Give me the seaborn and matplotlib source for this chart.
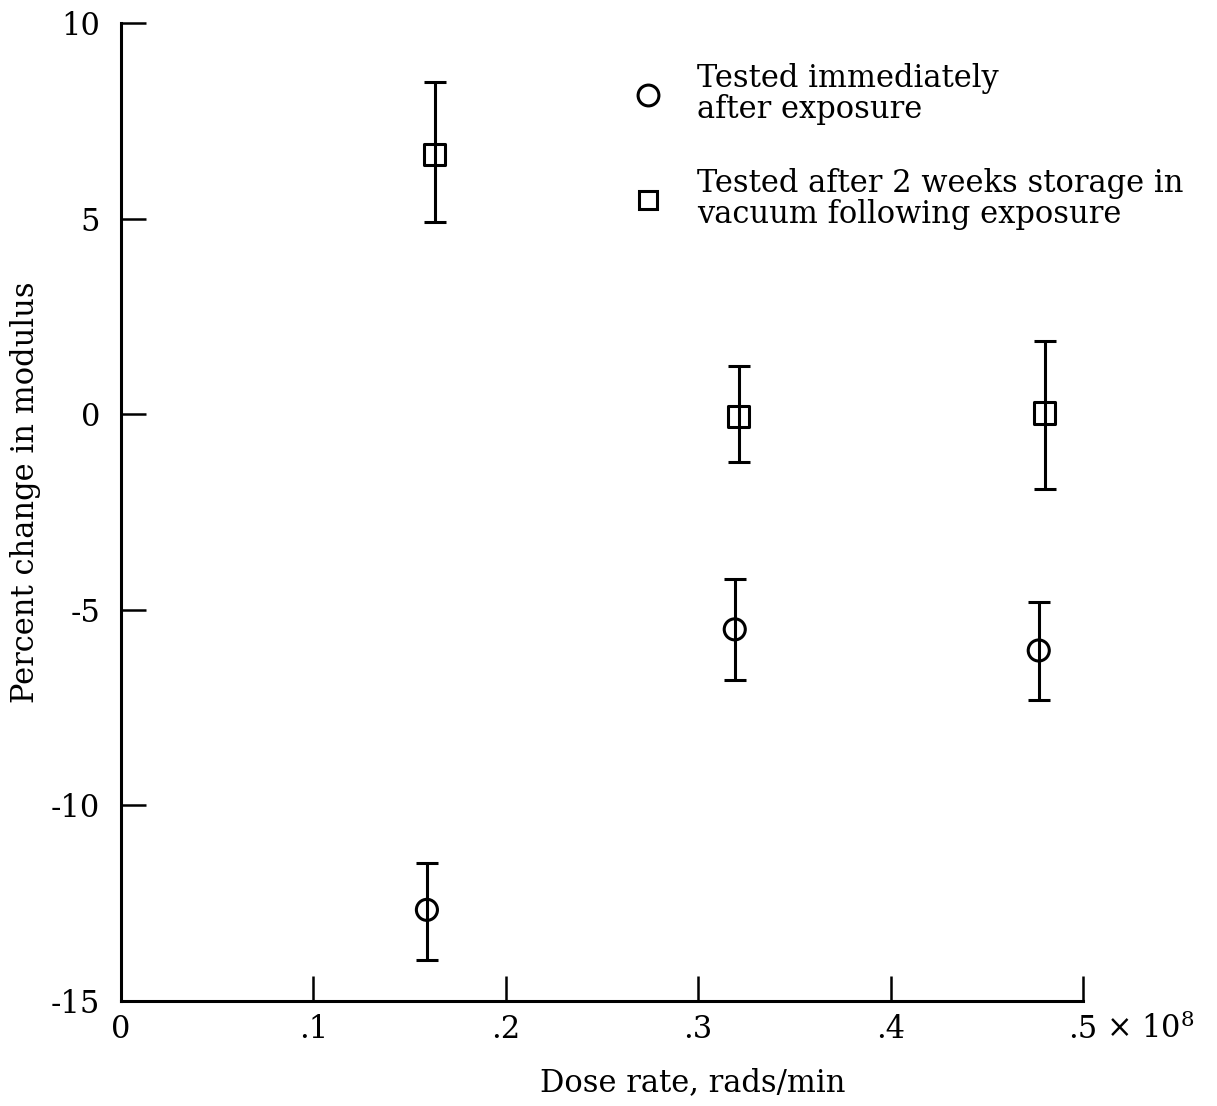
import matplotlib
matplotlib.use("Agg")
import matplotlib.pyplot as plt
from matplotlib.lines import Line2D
import numpy as np
import pandas as pd
import seaborn as sns

# values (dose rate in units of 1e8 rads/min)
dose_immediate = [0.159, 0.319, 0.477]
change_immediate = [-12.67, -5.50, -6.04]
low_immediate = [-13.94, -6.80, -7.30]
high_immediate = [-11.48, -4.22, -4.79]

dose_stored = [0.163, 0.321, 0.480]
change_stored = [6.63, -0.06, 0.03]
low_stored = [4.92, -1.21, -1.90]
high_stored = [8.50, 1.23, 1.86]

labels = ["Tested immediately\nafter exposure",
          "Tested after 2 weeks storage in\nvacuum following exposure"]
xticks = [0, 0.1, 0.2, 0.3, 0.4, 0.5]
xticklabels = ["0", ".1", ".2", ".3", ".4", ".5"]
yticks = [10, 5, 0, -5, -10, -15]
yticklabels = ["10", "5", "0", "-5", "-10", "-15"]

sns.set_style("ticks")
plt.rcParams["font.family"] = ["DejaVu Serif"]
plt.rcParams["mathtext.fontset"] = "dejavuserif"
for key in ["text.color", "axes.labelcolor", "xtick.color", "ytick.color", "axes.edgecolor"]:
    plt.rcParams[key] = "black"
fs = 22

df = pd.DataFrame({
    "dose": dose_immediate + dose_stored,
    "change": change_immediate + change_stored,
    "group": ["immediate"] * 3 + ["stored"] * 3,
})

fig = plt.figure(figsize=(12.17, 11.06), dpi=100)
ax = fig.add_axes([121 / 1217, 1 - 1001 / 1106, 962 / 1217, 978 / 1106])

# error bars first, hollow markers on top
for xs, ys, lo, hi in [(dose_immediate, change_immediate, low_immediate, high_immediate),
                       (dose_stored, change_stored, low_stored, high_stored)]:
    ys = np.array(ys)
    yerr = [ys - np.array(lo), np.array(hi) - ys]
    ax.errorbar(xs, ys, yerr=yerr, fmt="none", ecolor="black",
                elinewidth=2.2, capsize=8, capthick=2.2, zorder=2)

sns.scatterplot(data=df, x="dose", y="change", style="group",
                markers={"immediate": "o", "stored": "s"},
                facecolor="none", edgecolor="black", linewidth=2.2, s=230,
                legend=False, ax=ax, zorder=3)

ax.set_xlim(0, 0.5)
ax.set_ylim(-15, 10)
ax.set_xticks(xticks)
ax.set_xticklabels(xticklabels, fontsize=fs)
ax.set_yticks(yticks)
ax.set_yticklabels(yticklabels, fontsize=fs)
ax.tick_params(axis="both", direction="in", length=18, width=1.8)
ax.tick_params(axis="y", pad=15)
ax.tick_params(axis="x", pad=9)

sns.despine(ax=ax)
for side in ["left", "bottom"]:
    ax.spines[side].set_linewidth(2.2)

ax.text(1.024, -0.012, r"$\times\ 10^{8}$", transform=ax.transAxes,
        ha="left", va="top", fontsize=fs)

ax.set_xlabel("Dose rate, rads/min", fontsize=fs)
ax.xaxis.set_label_coords(0.594, -0.068)
ax.set_ylabel("Percent change in modulus", fontsize=fs)
ax.yaxis.set_label_coords(-0.083, 0.52)

handles = [
    Line2D([], [], marker="o", ls="none", mfc="none", mec="black", mew=2.2, ms=15),
    Line2D([], [], marker="s", ls="none", mfc="none", mec="black", mew=2.2, ms=13),
]
leg = ax.legend(handles, labels, loc="upper left", bbox_to_anchor=(0.532, 0.959),
                frameon=False, fontsize=fs, handlelength=1.0, handletextpad=1.1,
                labelspacing=1.4, borderpad=0, borderaxespad=0)
for t in leg.get_texts():
    t.set_linespacing(1.0)

fig.savefig("out.png", dpi=100)
